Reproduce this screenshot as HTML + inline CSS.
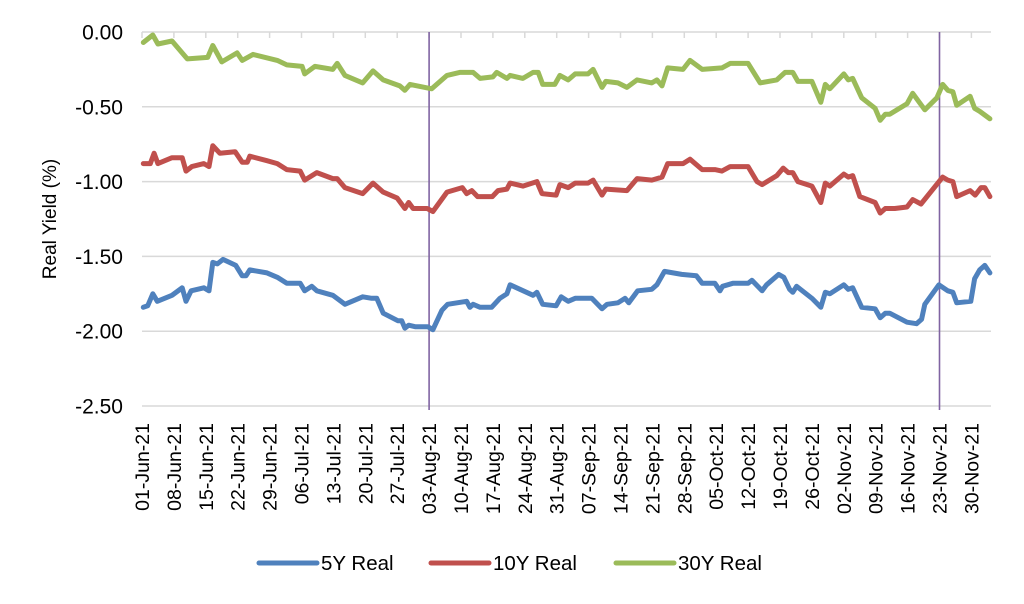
<!DOCTYPE html>
<html><head><meta charset="utf-8"><style>
html,body{margin:0;padding:0;background:#fff;}
svg{display:block;font-family:"Liberation Sans",Arial,sans-serif;}
</style></head><body>
<svg id="chart" width="1024" height="604" viewBox="0 0 1024 604"></svg>
<script>
const yTicks=[0,-0.5,-1.0,-1.5,-2.0,-2.5];
const xLabels=["01-Jun-21","08-Jun-21","15-Jun-21","22-Jun-21","29-Jun-21","06-Jul-21","13-Jul-21","20-Jul-21","27-Jul-21","03-Aug-21","10-Aug-21","17-Aug-21","24-Aug-21","31-Aug-21","07-Sep-21","14-Sep-21","21-Sep-21","28-Sep-21","05-Oct-21","12-Oct-21","19-Oct-21","26-Oct-21","02-Nov-21","09-Nov-21","16-Nov-21","23-Nov-21","30-Nov-21"];
const markerDays=[45,125];
// business-day index
const x5=[0.2,0.9,1.7,2.4,4.7,6.3,6.9,7.7,9.7,10.5,11.1,11.8,12.7,14.7,15.7,16.3,16.9,19.6,21.2,22.7,24.8,25.5,26.6,27.4,29.9,31.8,34.6,36.0,36.8,37.8,40.1,40.7,41.2,41.8,42.8,44.8,45.6,47.0,47.9,50.9,51.4,51.9,53.0,54.8,56.1,57.2,57.7,61.3,61.9,62.8,64.9,65.7,66.8,67.9,70.5,72.1,72.9,74.6,75.7,76.3,77.7,79.9,80.7,81.9,84.6,86.9,87.8,89.8,90.6,91.0,92.6,95.0,95.6,97.2,97.9,99.8,100.6,101.5,102.0,102.6,105.0,106.4,107.1,107.8,110.0,110.7,111.4,112.8,114.9,115.7,116.5,117.2,119.9,121.4,122.2,122.7,124.9,126.3,127.1,127.7,129.9,130.5,131.3,132.1,132.9];
const y5=[-1.84,-1.83,-1.75,-1.80,-1.76,-1.71,-1.80,-1.73,-1.71,-1.73,-1.54,-1.55,-1.52,-1.56,-1.63,-1.63,-1.59,-1.61,-1.64,-1.68,-1.68,-1.73,-1.70,-1.73,-1.76,-1.82,-1.77,-1.78,-1.78,-1.88,-1.93,-1.93,-1.98,-1.96,-1.97,-1.97,-1.99,-1.86,-1.82,-1.80,-1.84,-1.82,-1.84,-1.84,-1.78,-1.75,-1.69,-1.76,-1.74,-1.82,-1.83,-1.77,-1.80,-1.78,-1.78,-1.85,-1.82,-1.81,-1.78,-1.81,-1.73,-1.72,-1.69,-1.60,-1.62,-1.63,-1.68,-1.68,-1.73,-1.70,-1.68,-1.68,-1.66,-1.73,-1.69,-1.62,-1.64,-1.72,-1.74,-1.70,-1.78,-1.84,-1.74,-1.75,-1.69,-1.72,-1.71,-1.84,-1.85,-1.91,-1.88,-1.88,-1.94,-1.95,-1.92,-1.82,-1.69,-1.73,-1.74,-1.81,-1.80,-1.65,-1.59,-1.56,-1.61];
const x10=[0.2,1.3,1.9,2.5,4.7,6.3,6.9,7.8,9.7,10.5,11.1,12.2,14.6,15.7,16.5,16.9,19.6,21.2,22.7,24.8,25.5,27.4,29.9,30.6,31.8,34.6,36.2,37.8,40.0,41.2,41.8,42.5,44.7,45.6,47.8,50.2,50.9,51.7,52.6,54.9,55.8,57.2,57.7,59.7,61.9,62.7,64.9,65.5,66.8,67.9,69.9,70.7,72.1,72.7,76.0,77.6,79.9,81.5,82.4,84.8,85.9,87.8,89.8,90.9,92.2,95.0,96.4,97.2,99.5,100.5,101.3,102.0,102.8,105.0,106.4,107.1,107.8,110.0,110.7,111.4,112.5,114.9,115.7,116.5,118.0,119.9,120.8,122.1,125.5,126.3,127.1,127.7,129.8,130.6,131.5,132.1,132.9];
const y10=[-0.88,-0.88,-0.81,-0.88,-0.84,-0.84,-0.93,-0.90,-0.88,-0.90,-0.76,-0.81,-0.80,-0.87,-0.87,-0.83,-0.86,-0.88,-0.92,-0.93,-0.99,-0.94,-0.98,-0.98,-1.04,-1.08,-1.01,-1.07,-1.11,-1.18,-1.14,-1.18,-1.18,-1.20,-1.07,-1.04,-1.08,-1.06,-1.10,-1.10,-1.06,-1.05,-1.01,-1.03,-1.00,-1.08,-1.09,-1.02,-1.04,-1.01,-1.01,-0.99,-1.09,-1.05,-1.06,-0.98,-0.99,-0.97,-0.88,-0.88,-0.85,-0.92,-0.92,-0.93,-0.90,-0.90,-1.00,-1.02,-0.96,-0.91,-0.94,-0.94,-1.00,-1.03,-1.14,-1.01,-1.03,-0.95,-0.97,-0.96,-1.10,-1.14,-1.21,-1.18,-1.18,-1.17,-1.12,-1.15,-0.97,-0.99,-1.00,-1.10,-1.06,-1.09,-1.04,-1.04,-1.10];
const x30=[0.2,1.7,2.5,4.7,7.1,10.3,11.1,12.5,14.9,15.7,17.4,21.2,22.7,25.1,25.5,27.1,29.9,30.6,31.8,34.6,36.2,37.8,40.4,41.2,42.0,45.4,47.8,49.8,51.9,53.0,55.0,55.6,57.2,57.7,59.7,61.3,62.1,62.8,64.7,65.5,66.8,67.9,69.9,70.7,72.1,72.7,74.6,76.0,77.6,79.9,80.7,81.5,82.4,84.8,85.9,87.8,90.9,92.2,95.0,96.9,99.5,100.8,102.0,102.8,105.0,106.4,107.1,107.8,110.0,110.7,111.4,112.8,114.9,115.7,116.5,117.2,119.9,120.8,122.7,124.6,125.5,126.3,127.1,127.7,129.8,130.5,131.3,132.9];
const y30=[-0.07,-0.02,-0.08,-0.06,-0.18,-0.17,-0.09,-0.20,-0.14,-0.19,-0.15,-0.19,-0.22,-0.23,-0.28,-0.23,-0.25,-0.21,-0.29,-0.34,-0.26,-0.32,-0.36,-0.39,-0.35,-0.38,-0.29,-0.27,-0.27,-0.31,-0.30,-0.27,-0.31,-0.29,-0.31,-0.27,-0.27,-0.35,-0.35,-0.29,-0.32,-0.28,-0.28,-0.25,-0.37,-0.33,-0.34,-0.37,-0.32,-0.34,-0.32,-0.36,-0.24,-0.25,-0.19,-0.25,-0.24,-0.21,-0.21,-0.34,-0.32,-0.27,-0.27,-0.33,-0.33,-0.47,-0.35,-0.38,-0.28,-0.32,-0.31,-0.44,-0.51,-0.59,-0.55,-0.55,-0.48,-0.41,-0.52,-0.44,-0.35,-0.39,-0.40,-0.49,-0.43,-0.51,-0.53,-0.58];

const svg=document.getElementById('chart');
const NS='http://www.w3.org/2000/svg';
const L=142,R=991,T=32,B=406,DAY=6.38;
const xs=i=>L+i*DAY;
const ys=v=>T+(0-v)/2.5*(B-T);
function mk(tag,attrs,parent){const e=document.createElementNS(NS,tag);for(const k in attrs)e.setAttribute(k,attrs[k]);(parent||svg).appendChild(e);return e;}

yTicks.forEach(v=>{
  const g=mk('line',{x1:L,x2:R,y1:ys(v),y2:ys(v),stroke:'#d9d9d9','stroke-width':1.5});
  
  
  const t=mk('text',{x:123,y:ys(v)+7.5,'text-anchor':'end','font-size':21,fill:'#000'});
  t.textContent=v.toFixed(2);
  
  
});
xLabels.forEach((lab,k)=>{
  const px=xs(k*5);
  const tk=mk('line',{x1:px,x2:px,y1:T,y2:T+6,stroke:'#d9d9d9','stroke-width':1.5});
  
  
  const t=mk('text',{x:0,y:0,'text-anchor':'end','font-size':19.5,fill:'#000',transform:`translate(${px+7},423) rotate(-90)`});
  t.textContent=lab;
  
  
});
markerDays.forEach(d=>{
  const l=mk('line',{x1:xs(d),x2:xs(d),y1:T,y2:B+4,stroke:'#8064a2','stroke-width':1.6});
  
  
});
function series(xa,ya,color,name){
  const d=xa.map((x,i)=>(i?'L':'M')+xs(x).toFixed(1)+','+ys(ya[i]).toFixed(1)).join('');
  const p=mk('path',{d:d,fill:'none',stroke:color,'stroke-width':5,'stroke-linejoin':'round','stroke-linecap':'round'});
  
  
}
series(x30,y30,'#9bbb59','series-30y-real');
series(x10,y10,'#c0504d','series-10y-real');
series(x5,y5,'#4f81bd','series-5y-real');

const at=mk('text',{x:0,y:0,'text-anchor':'middle','font-size':19,fill:'#000',transform:'translate(56,219) rotate(-90)'});
at.textContent='Real Yield (%)';



const legend=[['5Y Real','#4f81bd',259],['10Y Real','#c0504d',431],['30Y Real','#9bbb59',616]];
legend.forEach(([lab,c,x0])=>{
  const g=mk('g',{});
  
  
  mk('line',{x1:x0,x2:x0+58,y1:563,y2:563,stroke:c,'stroke-width':5,'stroke-linecap':'round'},g);
  const t=mk('text',{x:x0+62,y:570,'font-size':20.5,fill:'#000'},g);
  t.textContent=lab;
});
</script>
</body></html>
